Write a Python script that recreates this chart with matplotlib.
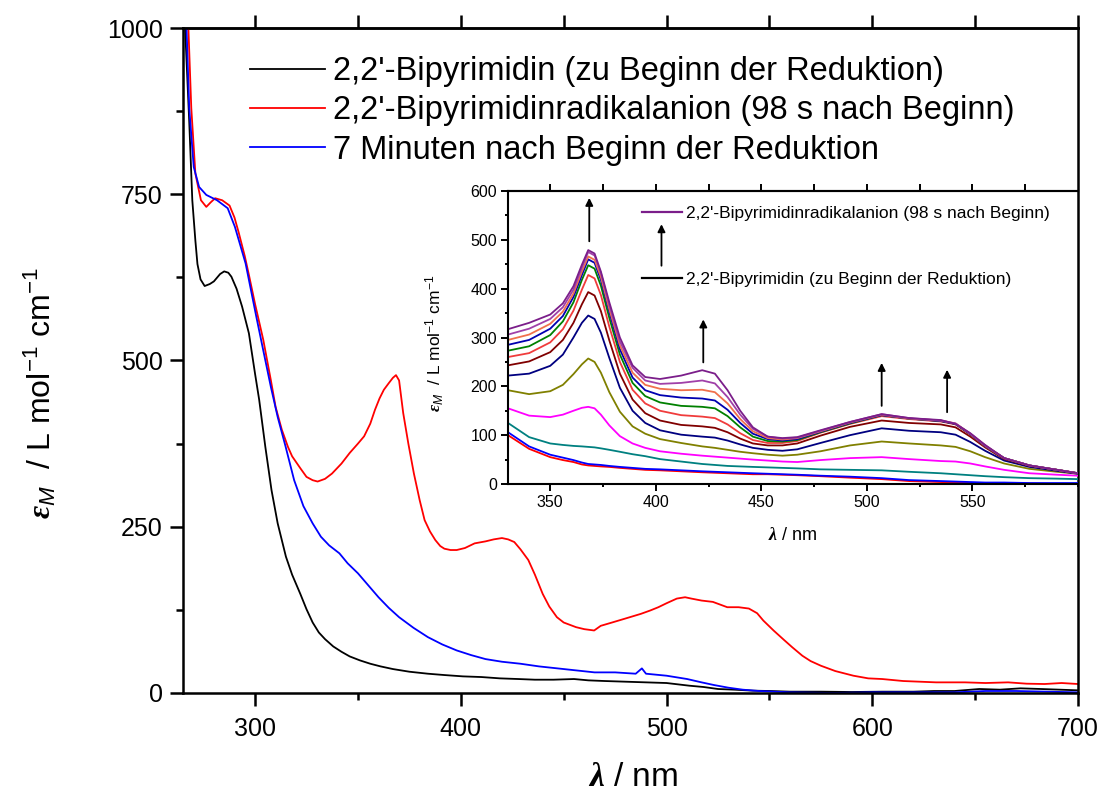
import matplotlib.pyplot as plt
from matplotlib.lines import Line2D
from matplotlib.ticker import MultipleLocator

plt.rcParams['font.family'] = ['Liberation Sans', 'DejaVu Sans']
plt.rcParams['mathtext.fontset'] = 'custom'
plt.rcParams['mathtext.rm'] = 'Liberation Sans'
plt.rcParams['mathtext.it'] = 'Liberation Sans:italic'
plt.rcParams['mathtext.bf'] = 'Liberation Serif:bold:italic'

# ---- main spectra ----
wl_black = [266, 268, 269.5, 271, 272, 273.5, 275.5, 278, 280, 283, 285, 287, 288.5, 291, 293.7, 297,
            300, 302, 305, 308, 311, 315, 318, 322, 325, 328, 331, 334, 338, 342, 346, 351, 356, 361, 367,
            375, 384, 392, 401, 410, 419, 428, 436, 445, 455, 462, 470, 480, 490, 500, 511, 518, 525,
            533, 542, 550, 560, 575, 590, 605, 620, 630, 640, 652, 662, 672, 682, 691, 700]
eps_black = [1000, 860, 741, 680, 645, 622, 612, 615, 619, 630, 634, 632, 626, 608, 581, 541,
             480, 441, 370, 305, 255, 205, 178, 149, 126, 106, 91, 81, 70, 62, 55, 49, 44, 40, 36,
             32, 29, 27, 25, 24, 22, 21, 20, 20, 21, 19, 18, 17, 16, 15, 11, 9, 6,
             5, 3.5, 3, 2, 2, 1.5, 2, 2, 3, 3, 6, 5, 7, 6, 5, 4]

wl_blue = [266.7, 268, 270.2, 272.8, 276.3, 281.5, 286.7, 290.2, 295.4, 300.6, 304, 307.7, 311, 314.8,
           319, 323.5, 328, 332, 336, 341, 345, 350, 355, 360, 365, 370, 377, 384, 391, 398, 405,
           412, 420, 429, 438, 447, 456, 465, 475, 485, 488, 490, 500, 510, 517, 523, 530, 537,
           545, 560, 580, 600, 620, 640, 655, 670, 685, 700]
eps_blue = [1000, 880, 791, 761, 749, 741, 729, 701, 646, 566, 515, 460, 415, 371,
            320, 281, 255, 235, 222, 210, 195, 180, 162, 144, 128, 114, 98, 84, 73, 64, 57,
            51, 47, 44, 40, 37, 34, 31, 31, 29, 37, 29, 26, 21, 16, 12, 8, 5,
            3, 1, 0, 1, 1, 1, 3, 3, 2, 1]

wl_red = [267.6, 269, 271, 273.7, 276.3, 278.5, 280.6, 284, 287.6, 290, 292, 295, 297.2, 300, 304,
          307.7, 310, 313, 316, 318, 322, 325, 328, 330.4, 334, 337.4, 342, 346, 350, 353, 356,
          358.3, 360.5, 362.6, 365, 367, 368.5, 370, 372, 374.5, 377.2, 380, 382.4, 385, 387.6,
          390, 392, 395, 398, 402, 406.7, 412, 416, 420, 423, 426, 429, 432.8, 436, 439.8, 443,
          446.7, 450, 456, 460, 464.8, 468, 473.5, 480, 487.5, 492, 496, 500, 505, 509, 512, 517,
          522.5, 526, 529.5, 535, 540, 544, 547, 552, 557, 561, 566, 570, 575, 582, 590.8, 598,
          604.8, 615, 631, 645, 655, 666, 675, 683.7, 692, 700]
eps_red = [1000, 880, 781, 741, 731, 738, 744, 741, 733, 715, 693, 657, 626, 585, 531,
           470, 430, 396, 370, 356, 338, 325, 320, 318, 322, 330, 345, 361, 375, 386, 405,
           426, 443, 456, 466, 474, 478, 470, 421, 375, 330, 290, 260, 243, 230,
           221, 217, 215, 215, 218, 225, 228, 231, 233, 231, 227, 216, 200, 178, 149, 130,
           114, 106, 99, 96, 94, 101, 106, 112, 119, 124, 129, 135, 142, 144, 142, 139,
           137, 133, 129, 129, 127, 120, 109, 94, 80, 69, 56, 48, 41, 33, 26, 22,
           21, 18, 16, 16, 15, 16, 14, 13.5, 15, 13.5]

legend_main = ['2,2\'-Bipyrimidin (zu Beginn der Reduktion)',
               '2,2\'-Bipyrimidinradikalanion (98 s nach Beginn)',
               '7 Minuten nach Beginn der Reduktion']

# ---- inset: spectra recorded during the reduction, bottom to top ----
wl_in = [330, 340, 350, 356, 361, 365, 368, 371, 374, 378, 383, 389, 395, 402, 412, 422, 428, 434,
         440, 446, 453, 460, 467, 478, 492, 507, 520, 535, 542, 549, 556, 565, 577, 590, 600]
in_red0 = [100, 72, 55, 49, 45, 40, 38, 37, 36, 35, 33, 31, 29, 28, 26, 24, 23, 22, 21, 20,
           20, 19, 18, 16, 13, 10, 6, 4, 3, 2, 1, 1, 1, 0, 0]
in_blue0 = [106, 77, 60, 54, 49, 44, 41, 40, 39, 37, 35, 33, 31, 30, 28, 26, 25, 24, 23, 22,
            21, 20, 19, 17, 15, 12, 8, 6, 5, 4, 3, 3, 2, 2, 2]
in_teal = [125, 96, 83, 80, 78, 77, 76, 75, 73, 70, 66, 61, 57, 51, 46, 41, 39, 37, 36, 35,
           34, 33, 32, 30, 29, 28, 25, 22, 20, 18, 16, 14, 12, 11, 10]
in_magenta = [155, 140, 137, 142, 150, 156, 158, 155, 142, 120, 98, 83, 74, 67, 62, 58, 56, 54, 52, 50,
              48, 46, 45, 49, 53, 55, 51, 47, 46, 42, 36, 29, 22, 19, 17]
in_olive = [192, 184, 190, 203, 225, 245, 257, 250, 228, 188, 148, 118, 103, 92, 84, 77, 74, 70, 66, 63,
            60, 58, 60, 67, 79, 87, 83, 79, 76, 67, 55, 42, 31, 25, 21]
in_navy = [222, 226, 242, 265, 300, 330, 345, 338, 310, 258, 197, 150, 125, 110, 101, 97, 95, 89, 81, 74,
           70, 68, 71, 84, 100, 114, 109, 106, 101, 86, 68, 48, 35, 27, 21]
in_wine = [243, 251, 270, 295, 330, 368, 393, 386, 354, 294, 226, 173, 145, 130, 121, 118, 115, 106, 93, 83,
           79, 79, 83, 99, 117, 130, 125, 122, 116, 97, 75, 51, 37, 29, 22]
in_red = [260, 268, 290, 317, 355, 398, 428, 421, 387, 322, 250, 193, 165, 150, 141, 138, 135, 122, 104, 90,
          84, 84, 88, 105, 123, 139, 133, 128, 122, 101, 77, 53, 38, 29, 22]
in_green = [273, 282, 305, 333, 372, 418, 448, 441, 406, 340, 265, 207, 180, 167, 160, 158, 155, 139, 116, 97,
            88, 87, 90, 106, 124, 141, 134, 129, 123, 102, 78, 53, 38, 29, 22]
in_royal = [285, 295, 318, 344, 383, 428, 460, 453, 418, 352, 276, 218, 192, 182, 177, 175, 171, 152, 125, 103,
            92, 89, 92, 107, 125, 141, 134, 129, 123, 102, 78, 53, 38, 29, 22]
in_orange = [295, 306, 328, 353, 390, 435, 466, 459, 424, 358, 284, 228, 203, 195, 192, 193, 188, 165, 133, 108,
             94, 91, 94, 108, 126, 142, 134, 130, 124, 103, 79, 53, 38, 29, 22]
in_violet = [306, 318, 338, 362, 398, 443, 475, 468, 432, 366, 292, 238, 212, 205, 207, 212, 206, 178, 142, 113,
             97, 93, 95, 109, 127, 143, 135, 130, 124, 103, 79, 53, 38, 29, 22]
in_purple = [317, 330, 347, 370, 405, 449, 479, 472, 435, 372, 300, 243, 219, 215, 222, 233, 226, 192, 150, 116,
             97, 94, 96, 110, 127, 143, 135, 131, 123, 104, 80, 53, 38, 29, 22]

in_series = [in_red0, in_blue0, in_teal, in_magenta, in_olive, in_navy, in_wine,
             in_red, in_green, in_royal, in_orange, in_violet, in_purple]
in_colors = ['#FF0000', '#0000FF', '#008080', '#FF00FF', '#808000', '#000080', '#800000',
             '#F03C3C', '#008000', '#0000B0', '#F0704C', '#A040A8', '#7B1E8A']

legend_in = ['2,2\'-Bipyrimidinradikalanion (98 s nach Beginn)',
             '2,2\'-Bipyrimidin (zu Beginn der Reduktion)']

# arrows in the inset (wavelength, start, end)
arrow_x = [368.5, 422.5, 507, 538, 402.7]
arrow_y0 = [497, 249, 160, 147, 447]
arrow_y1 = [586, 337, 248, 234, 532]

fig = plt.figure(figsize=(11.02, 7.91), dpi=100)
fig.patch.set_facecolor('white')

ax = fig.add_axes([0.1661, 0.1239, 0.8122, 0.8407])
ax.plot(wl_black, eps_black, color='black', lw=1.3, label=legend_main[0])
ax.plot(wl_red, eps_red, color='#FF0000', lw=1.3, label=legend_main[1])
ax.plot(wl_blue, eps_blue, color='#0000FF', lw=1.3, label=legend_main[2])
ax.set_xlim(265, 700)
ax.set_ylim(0, 1000)
ax.xaxis.set_major_locator(MultipleLocator(100))
ax.xaxis.set_minor_locator(MultipleLocator(50))
ax.yaxis.set_major_locator(MultipleLocator(250))
ax.yaxis.set_minor_locator(MultipleLocator(125))
ax.tick_params(which='both', direction='out', width=1.8, labelsize=18, right=False, top=False)
ax.tick_params(which='major', length=9.5, pad=5)
ax.tick_params(axis='x', which='major', pad=8)
ax.tick_params(which='minor', length=5)
for s in ax.spines.values():
    s.set_linewidth(1.8)

top = ax.secondary_xaxis('top')
top.set_xticks(range(300, 701, 50))
top.tick_params(direction='out', length=9.5, width=1.8, labeltop=False)
top.spines['top'].set_linewidth(1.8)

ax.legend(loc='upper left', bbox_to_anchor=(0.0749, 0.958), frameon=False, fontsize=23.5,
          handlelength=2.3, handletextpad=0.25, labelspacing=0.26, borderpad=0, borderaxespad=0)

fig.text(40 / 1102, 1 - 393 / 791, r'$\mathbf{ε}_{M}$  / L mol$^{-1}$ cm$^{-1}$',
         rotation=90, ha='center', va='center', fontsize=23)
fig.text(633 / 1102, 1 - 777 / 791, r'$\mathbf{λ}$ / nm', ha='center', va='center', fontsize=24)

# ---- inset ----
axin = fig.add_axes([508 / 1102, 1 - 484 / 791, 570 / 1102, 293 / 791], facecolor='none')
for ys, c in zip(in_series, in_colors):
    axin.plot(wl_in, ys, color=c, lw=1.3)
axin.set_xlim(330, 600)
axin.set_ylim(0, 600)
axin.xaxis.set_major_locator(MultipleLocator(50))
axin.xaxis.set_minor_locator(MultipleLocator(25))
axin.yaxis.set_major_locator(MultipleLocator(100))
axin.yaxis.set_minor_locator(MultipleLocator(50))
axin.set_xticks([350, 400, 450, 500, 550])
axin.tick_params(which='both', direction='out', width=1.4, labelsize=11.5, right=False, top=False)
axin.tick_params(which='major', length=5, pad=3)
axin.tick_params(which='minor', length=2.5)
axin.spines['right'].set_visible(False)
for k in ['left', 'top', 'bottom']:
    axin.spines[k].set_linewidth(1.5)
topin = axin.secondary_xaxis('top')
topin.set_xticks(range(350, 600, 25))
topin.tick_params(direction='out', length=5, width=1.4, labeltop=False)
topin.spines['top'].set_linewidth(1.5)

for x, y0, y1 in zip(arrow_x, arrow_y0, arrow_y1):
    axin.annotate('', xy=(x, y1), xytext=(x, y0),
                  arrowprops=dict(arrowstyle='-|>', color='black', lw=1.3, mutation_scale=11,
                                  shrinkA=0, shrinkB=0))

hin = [Line2D([], [], color='#7B1E8A', lw=1.6), Line2D([], [], color='black', lw=1.6)]
axin.legend(hin, legend_in, loc='upper left', bbox_to_anchor=(0.2356, 0.95), frameon=False,
            fontsize=12.5, handlelength=2.3, handletextpad=0.2, labelspacing=2.95,
            borderpad=0, borderaxespad=0)

fig.text(435 / 1102, 1 - 343 / 791, r'$\mathbf{ε}_{M}$  / L mol$^{-1}$ cm$^{-1}$',
         rotation=90, ha='center', va='center', fontsize=12.5)
fig.text(793 / 1102, 1 - 535 / 791, r'$\mathbf{λ}$ / nm', ha='center', va='center', fontsize=13)

fig.savefig('out.png', dpi=100)
